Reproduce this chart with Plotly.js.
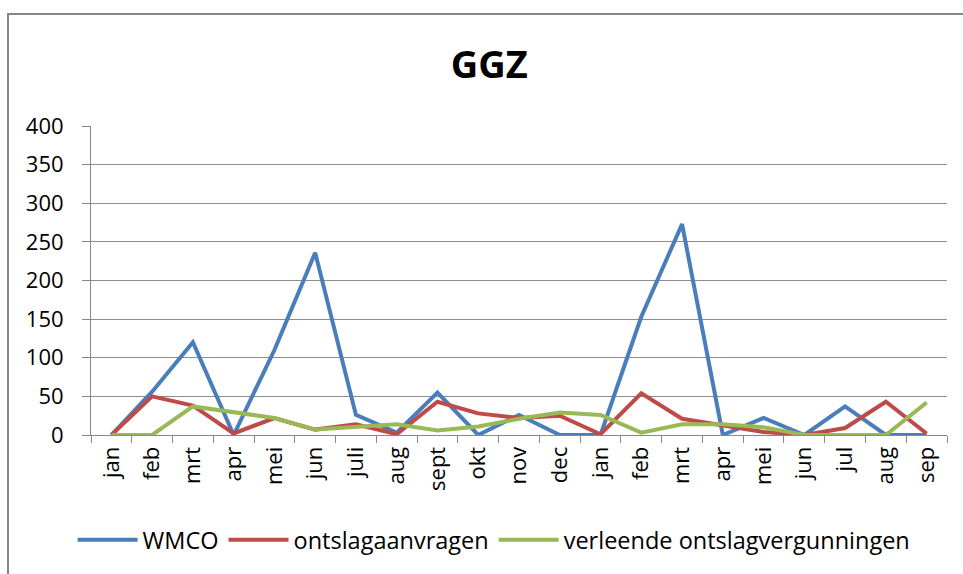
<!DOCTYPE html>
<html>
<head>
<meta charset="utf-8">
<script src="https://cdn.plot.ly/plotly-3.0.1.min.js"></script>
<style>html,body{margin:0;padding:0;background:#fff;}#chart{width:963px;height:574px;}</style>
</head>
<body>
<div id="chart"></div>
<script>
const monthLabels = ["jan","feb","mrt","apr","mei","jun","juli","aug","sept","okt","nov","dec","jan","feb","mrt","apr","mei","jun","jul","aug","sep"];
const wmco = [0, 56, 120, 0, 110, 236, 26, 3, 55, 0, 26, 0, 0, 153, 273, 0, 22, 0, 37, 0, 0];
const ontslagaanvragen = [0, 50, 38, 2, 22, 7, 14, 1, 43, 28, 22, 25, 1, 54, 21, 12, 4, 0, 9, 43, 2];
const verleende = [0, 0, 37, 29, 22, 7, 11, 14, 6, 11, 21, 29, 26, 3, 14, 14, 10, 0, 0, 0, 42];
const seriesNames = ["WMCO", "ontslagaanvragen", "verleende ontslagvergunningen"];

const xKeys = monthLabels.map((m, i) => "c" + i);
const colors = ["#4A7EBB", "#BE4B48", "#98B954"];
const data = [wmco, ontslagaanvragen, verleende].map((ys, k) => ({
  type: "scatter", mode: "lines", x: xKeys, y: ys, name: seriesNames[k],
  line: {color: colors[k], width: 4}
}));

const font = "'Open Sans', 'Liberation Sans', sans-serif";
const layout = {
  width: 963, height: 574,
  margin: {l: 91, r: 16, t: 126, b: 139},
  paper_bgcolor: "#fff", plot_bgcolor: "#fff",
  font: {family: font, color: "#000", size: 21},
  title: {text: "<b>GGZ</b>", font: {family: font, size: 38, color: "#000"}, x: 0.508, xanchor: "center", y: 0.887, yanchor: "middle"},
  xaxis: {
    type: "category", tickmode: "array", tickvals: xKeys, ticktext: monthLabels,
    tickson: "boundaries", ticks: "outside", ticklen: 7, tickcolor: "#888",
    tickangle: -90, showgrid: false, showline: true, linecolor: "#888", linewidth: 1,
    tickfont: {size: 22, family: font}, range: [-0.5, 20.5], zeroline: false,
    ticklabelstandoff: 2
  },
  yaxis: {
    range: [0, 400], dtick: 50, tick0: 0, showgrid: true, gridcolor: "#8c8c8c", gridwidth: 1,
    ticks: "outside", ticklen: 8, tickcolor: "#888", showline: true, linecolor: "#888",
    zeroline: false, tickfont: {size: 22, family: font}, ticklabelstandoff: 14
  },
  showlegend: true,
  legend: {orientation: "h", x: -0.0215, xanchor: "left", y: -0.34, yanchor: "middle",
           font: {size: 23.5, family: font}, itemwidth: 60, traceorder: "normal", bgcolor: "rgba(0,0,0,0)"},
  shapes: [{type: "rect", xref: "paper", yref: "paper",
            x0: (8 - 91) / 856, x1: (980 - 91) / 856, y0: (435 - 590) / 309, y1: (435 - 14) / 309,
            line: {color: "#868686", width: 2}, fillcolor: "rgba(0,0,0,0)", layer: "below"}]
};
Plotly.newPlot("chart", data, layout, {displayModeBar: false, staticPlot: true});
</script>
</body>
</html>
